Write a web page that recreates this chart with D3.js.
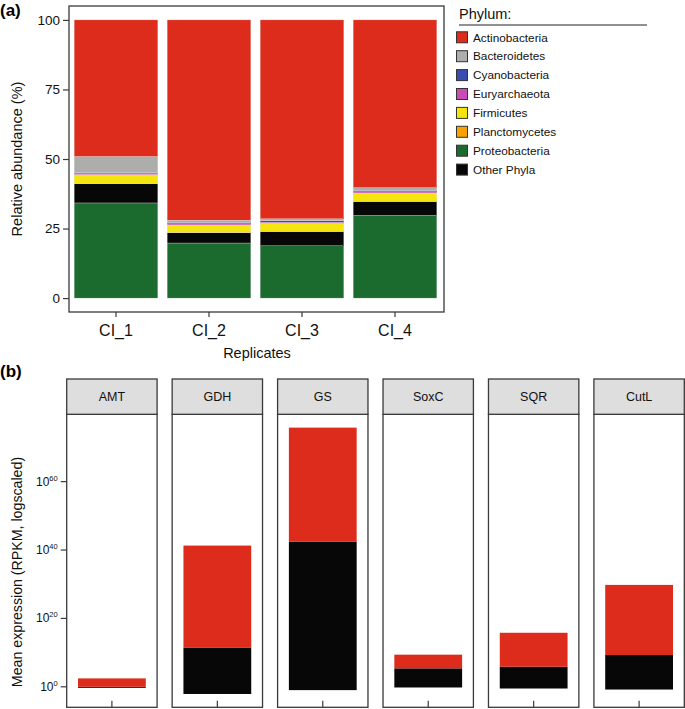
<!DOCTYPE html>
<html>
<head>
<meta charset="utf-8">
<script src="https://cdn.jsdelivr.net/npm/d3@7"></script>
<style>
  html, body { margin: 0; padding: 0; background: #fff; }
  svg { display: block; font-family: "Liberation Sans", Arial, Helvetica, sans-serif; }
</style>
</head>
<body>
<svg id="chart" width="685" height="709"></svg>
<script>
// ---------- Panel (a) data ----------
const replicates = ["CI_1", "CI_2", "CI_3", "CI_4"];
const phylaLegend = ["Actinobacteria", "Bacteroidetes", "Cyanobacteria", "Euryarchaeota",
                     "Firmicutes", "Planctomycetes", "Proteobacteria", "Other Phyla"];
// stacking order, bottom -> top
const stackOrder = ["Proteobacteria", "Other Phyla", "Planctomycetes", "Firmicutes",
                    "Euryarchaeota", "Cyanobacteria", "Bacteroidetes", "Actinobacteria"];
const actinobacteria = [49.1, 72.0, 71.5, 60.3];
const bacteroidetes  = [5.8, 0.8, 0.7, 1.0];
const cyanobacteria  = [0.4, 0.5, 0.5, 0.5];
const euryarchaeota  = [0.3, 0.4, 0.4, 0.4];
const firmicutes     = [3.2, 2.7, 2.9, 3.0];
const planctomycetes = [0.1, 0.1, 0.1, 0.1];
const proteobacteria = [34.2, 19.8, 18.8, 29.7];
const otherPhyla     = [6.9, 3.7, 5.1, 5.0];
const abundanceTicks = [0, 25, 50, 75, 100];

// ---------- Panel (b) data (log10 contributions, stacked) ----------
const genes = ["AMT", "GDH", "GS", "SoxC", "SQR", "CutL"];
const otherNegLog10 = [-0.3, -2.1, -0.97, -0.2, -0.5, -0.8];
const otherPosLog10 = [0, 11.5, 42.4, 5.4, 5.85, 9.3];
const actinoLog10   = [2.46, 29.8, 33.4, 4.0, 9.95, 20.5];
const expressionTickExp = [0, 20, 40, 60];

// ---------- styling ----------
const colors = {
  "Actinobacteria": "#dd2c1c",
  "Bacteroidetes": "#adadab",
  "Cyanobacteria": "#3b4cb0",
  "Euryarchaeota": "#c74db5",
  "Firmicutes": "#f4e50f",
  "Planctomycetes": "#f8a100",
  "Proteobacteria": "#1b6a2e",
  "Other Phyla": "#070707"
};
const frame = "#3a3a3a";
const svg = d3.select("#chart");

const valuesByPhylum = {
  "Actinobacteria": actinobacteria, "Bacteroidetes": bacteroidetes,
  "Cyanobacteria": cyanobacteria, "Euryarchaeota": euryarchaeota,
  "Firmicutes": firmicutes, "Planctomycetes": planctomycetes,
  "Proteobacteria": proteobacteria, "Other Phyla": otherPhyla
};
const table = replicates.map((r, i) => {
  const o = { rep: r };
  stackOrder.forEach(p => o[p] = valuesByPhylum[p][i]);
  return o;
});

// ================= Panel (a) =================
const A = { left: 69, right: 444, top: 6, bottom: 312 };
const xA = d3.scaleBand().domain(replicates).range([69.5, 441.5]).paddingInner(0.1).paddingOuter(0.05);
const yA = d3.scaleLinear().domain([-5, 105]).range([A.bottom, A.top]);

const series = d3.stack().keys(stackOrder)(table);
const gA = svg.append("g");
gA.selectAll("g.layer").data(series).join("g")
  .attr("fill", d => colors[d.key])
  .selectAll("rect").data(d => d).join("rect")
  .attr("x", d => xA(d.data.rep))
  .attr("width", xA.bandwidth())
  .attr("y", d => yA(d[1]))
  .attr("height", d => yA(d[0]) - yA(d[1]))
  .attr("stroke", "#e2e2e2").attr("stroke-width", 0.3);

gA.append("rect")
  .attr("x", A.left).attr("y", A.top)
  .attr("width", A.right - A.left).attr("height", A.bottom - A.top)
  .attr("fill", "none").attr("stroke", frame).attr("stroke-width", 1.3);

// y axis
const yAxisA = gA.append("g").attr("transform", `translate(${A.left},0)`)
  .call(d3.axisLeft(yA).tickValues(abundanceTicks).tickSize(6).tickPadding(3));
yAxisA.select(".domain").remove();
yAxisA.selectAll("line").attr("stroke", frame).attr("stroke-width", 1.2);
yAxisA.selectAll("text").attr("font-size", 13.5).attr("fill", "#111")
  .attr("font-family", "Liberation Sans, Arial, sans-serif");

// x axis
const xAxisA = gA.append("g").attr("transform", `translate(0,${A.bottom})`)
  .call(d3.axisBottom(xA).tickSize(5).tickPadding(8));
xAxisA.select(".domain").remove();
xAxisA.selectAll("line").attr("stroke", frame).attr("stroke-width", 1.2);
xAxisA.selectAll("text").attr("font-size", 16).attr("fill", "#111")
  .attr("font-family", "Liberation Sans, Arial, sans-serif");

gA.append("text").attr("x", 257).attr("y", 358).attr("text-anchor", "middle")
  .attr("font-size", 14.5).attr("fill", "#111").text("Replicates");
gA.append("text").attr("transform", `translate(21.5,159) rotate(-90)`).attr("text-anchor", "middle")
  .attr("font-size", 14.5).attr("fill", "#111").text("Relative abundance (%)");

// legend
const lg = svg.append("g");
lg.append("text").attr("x", 459).attr("y", 19).attr("font-size", 14.5).attr("fill", "#111").text("Phylum:");
lg.append("line").attr("x1", 459).attr("x2", 647).attr("y1", 25).attr("y2", 25)
  .attr("stroke", "#222").attr("stroke-width", 1);
const legendY = d3.scalePoint().domain(phylaLegend).range([37.3, 169.6]);
const items = lg.selectAll("g.item").data(phylaLegend).join("g")
  .attr("transform", d => `translate(0,${legendY(d)})`);
items.append("rect").attr("x", 456.5).attr("y", -5.5).attr("width", 11).attr("height", 11)
  .attr("fill", d => colors[d]).attr("stroke", "#333").attr("stroke-width", 1);
items.append("text").attr("x", 473).attr("y", 4.2).attr("font-size", 11.8).attr("fill", "#111").text(d => d);

// panel labels
svg.append("text").attr("x", 0).attr("y", 16).attr("font-size", 17).attr("font-weight", "bold").text("(a)");
svg.append("text").attr("x", 0).attr("y", 377).attr("font-size", 17).attr("font-weight", "bold").text("(b)");

// ================= Panel (b) =================
const B = { top: 414.3, bottom: 707.3, stripTop: 379 };
const facetX = d3.scaleBand().domain(genes).range([66.7, 684.3]).paddingInner(0.1428).paddingOuter(0);
const fw = facetX.bandwidth();
const lows = genes.map((g, i) => otherNegLog10[i]);
const highs = genes.map((g, i) => otherPosLog10[i] + actinoLog10[i]);
const lo = d3.min(lows), hi = d3.max(highs), span = hi - lo;
const yB = d3.scaleLog().domain([Math.pow(10, lo - 0.05 * span), Math.pow(10, hi + 0.05 * span)])
  .range([B.bottom, B.top]);

const gB = svg.append("g");
genes.forEach((g, i) => {
  const fx = facetX(g);
  const f = gB.append("g").attr("transform", `translate(${fx},0)`);
  const bw = fw * 0.9 / 1.2;
  const bx = (fw - bw) / 2;
  const segs = [
    { lo: otherNegLog10[i], hi: otherPosLog10[i], c: colors["Other Phyla"] },
    { lo: otherPosLog10[i], hi: otherPosLog10[i] + actinoLog10[i], c: colors["Actinobacteria"] }
  ];
  f.selectAll("rect.seg").data(segs.filter(s => s.hi > s.lo)).join("rect")
    .attr("x", bx).attr("width", bw)
    .attr("y", s => yB(Math.pow(10, s.hi)))
    .attr("height", s => yB(Math.pow(10, s.lo)) - yB(Math.pow(10, s.hi)))
    .attr("fill", s => s.c);
  // panel frame
  f.append("rect").attr("x", 0).attr("y", B.top).attr("width", fw).attr("height", B.bottom - B.top)
    .attr("fill", "none").attr("stroke", frame).attr("stroke-width", 1.3);
  // strip
  f.append("rect").attr("x", 0).attr("y", B.stripTop).attr("width", fw).attr("height", B.top - B.stripTop)
    .attr("fill", "#dedede").attr("stroke", frame).attr("stroke-width", 1.3);
  f.append("text").attr("x", fw / 2).attr("y", 401).attr("text-anchor", "middle")
    .attr("font-size", 12.5).attr("fill", "#111").text(g);
  // x tick
  f.append("line").attr("x1", fw / 2).attr("x2", fw / 2).attr("y1", B.bottom - 6.5).attr("y2", B.bottom)
    .attr("stroke", frame).attr("stroke-width", 1.2);
});

// y axis for (b)
const yAxisB = gB.append("g").attr("transform", `translate(66.7,0)`);
expressionTickExp.forEach(e => {
  const y = yB(Math.pow(10, e));
  yAxisB.append("line").attr("x1", -6).attr("x2", 0).attr("y1", y).attr("y2", y)
    .attr("stroke", frame).attr("stroke-width", 1.2);
  const t = yAxisB.append("text").attr("x", -9).attr("y", y + 4).attr("text-anchor", "end")
    .attr("font-size", 12).attr("fill", "#111");
  t.append("tspan").text("10");
  t.append("tspan").attr("dy", -5).attr("font-size", 7.5).text(e);
});
gB.append("text").attr("transform", `translate(21.5,572) rotate(-90)`).attr("text-anchor", "middle")
  .attr("font-size", 14.2).attr("fill", "#111").text("Mean expression (RPKM, logscaled)");
</script>
</body>
</html>
